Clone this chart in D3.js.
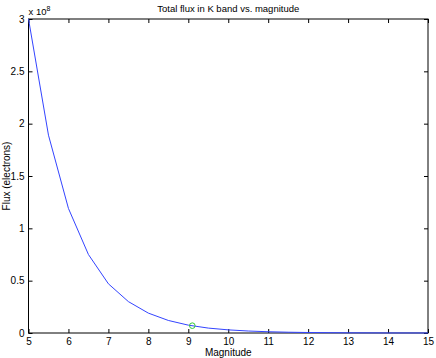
<!DOCTYPE html>
<html lang="en">
<head>
  <meta charset="UTF-8">
  <title>Total flux in K band vs. magnitude</title>
  <script src="https://d3js.org/d3.v7.min.js"></script>
  <style>
    body { margin: 0; background: #fff; }
    svg text { font-family: "Liberation Sans", Arial, sans-serif; fill: #000; }
  </style>
</head>
<body>
  <div id="root"></div>
  <script>
    // data
    const magnitudes = [5, 5.5, 6, 6.5, 7, 7.5, 8, 8.5, 9, 9.5, 10, 10.5, 11, 11.5, 12, 12.5, 13, 13.5, 14, 14.5, 15]
    const flux = [3.0e8, 1.89e8, 1.19e8, 0.75e8, 0.47e8, 0.30e8, 0.19e8, 0.12e8, 0.075e8, 0.047e8, 0.030e8,
      0.019e8, 0.012e8, 0.0075e8, 0.0047e8, 0.003e8, 0.0019e8, 0.0012e8, 0.00075e8, 0.00047e8, 0.0003e8]
    const marker = [{m: 9.1, f: 0.07e8}]
    const xTicks = [5, 6, 7, 8, 9, 10, 11, 12, 13, 14, 15]
    const yTicks = [0, 0.5e8, 1e8, 1.5e8, 2e8, 2.5e8, 3e8]

    const width = 436
    const height = 358
    const margin = {top: 19, right: 8, bottom: 25, left: 28.5}

    const svg = d3.select('#root')
      .append('svg')
      .attr('width', width)
      .attr('height', height)

    const x = d3.scaleLinear().domain([5, 15]).range([margin.left, width - margin.right])
    const y = d3.scaleLinear().domain([0, 3e8]).range([height - margin.bottom, margin.top])

    // box
    svg.append('rect')
      .attr('x', x(5)).attr('y', y(3e8))
      .attr('width', x(15) - x(5)).attr('height', y(0) - y(3e8))
      .attr('fill', 'none').attr('stroke', '#000').attr('stroke-width', 1)

    // axes (ticks inward)
    const fmt = d => d3.format('~g')(d / 1e8)
    svg.append('g')
      .attr('transform', `translate(0,${y(0)})`)
      .call(d3.axisBottom(x).tickValues(xTicks).tickSizeInner(-4).tickSizeOuter(0).tickPadding(4.5))
    svg.append('g')
      .attr('transform', `translate(0,${y(3e8)})`)
      .call(d3.axisTop(x).tickValues(xTicks).tickSizeInner(-4).tickSizeOuter(0).tickFormat(''))
    svg.append('g')
      .attr('transform', `translate(${x(5)},0)`)
      .call(d3.axisLeft(y).tickValues(yTicks).tickSizeInner(-4).tickSizeOuter(0).tickPadding(4).tickFormat(fmt))
    svg.append('g')
      .attr('transform', `translate(${x(15)},0)`)
      .call(d3.axisRight(y).tickValues(yTicks).tickSizeInner(-4).tickSizeOuter(0).tickFormat(''))

    svg.selectAll('.domain').remove()
    svg.selectAll('.tick text').attr('font-size', 10).attr('font-family', '"Liberation Sans", Arial, sans-serif')

    // line
    const pts = magnitudes.map((m, i) => ({m, f: flux[i]}))
    svg.append('path')
      .datum(pts)
      .attr('fill', 'none')
      .attr('stroke', '#3344ff')
      .attr('stroke-width', 1)
      .attr('d', d3.line().x(d => x(d.m)).y(d => y(d.f)))

    svg.selectAll('circle')
      .data(marker)
      .enter()
      .append('circle')
      .attr('cx', d => x(d.m))
      .attr('cy', d => y(d.f))
      .attr('r', 2.8)
      .attr('fill', 'none')
      .attr('stroke', '#33cc33')

    // labels
    svg.append('text').text('Total flux in K band vs. magnitude')
      .attr('x', (x(5) + x(15)) / 2).attr('y', 12)
      .attr('text-anchor', 'middle').attr('font-size', 9.5)
    svg.append('text').text('Magnitude')
      .attr('x', (x(5) + x(15)) / 2).attr('y', 356)
      .attr('text-anchor', 'middle').attr('font-size', 10)
    svg.append('text').text('Flux (electrons)')
      .attr('transform', `translate(10,${(y(0) + y(3e8)) / 2}) rotate(-90)`)
      .attr('text-anchor', 'middle').attr('font-size', 10)
    const mult = svg.append('text').attr('x', x(5)).attr('y', 15).attr('font-size', 9.5)
    mult.append('tspan').text('x 10')
    mult.append('tspan').text('8').attr('font-size', 7).attr('dy', -4)
  </script>
</body>
</html>
